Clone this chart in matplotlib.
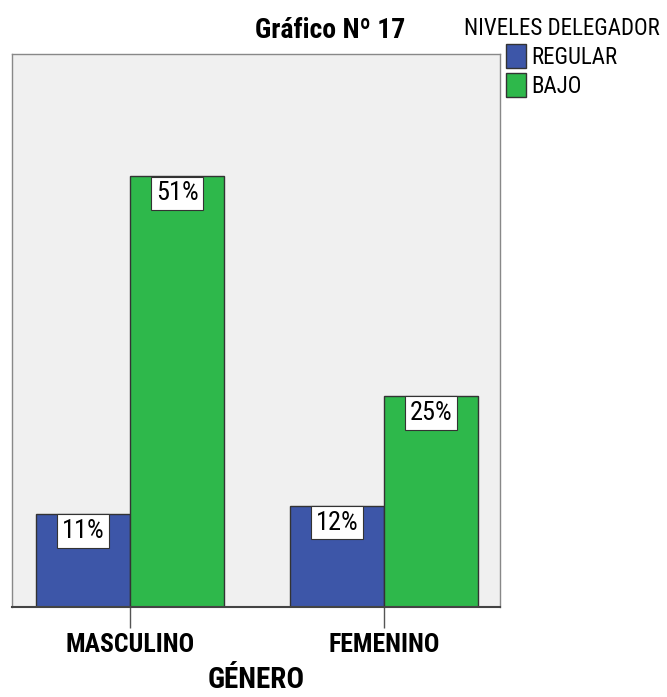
import matplotlib
matplotlib.use("Agg")
import matplotlib.pyplot as plt
import numpy as np
from matplotlib import font_manager as fm

categories = ["MASCULINO", "FEMENINO"]
series_names = ["REGULAR", "BAJO"]
regular = [11, 12]
bajo = [51, 25]
labels_regular = ["11%", "12%"]
labels_bajo = ["51%", "25%"]

installed = {f.name for f in fm.fontManager.ttflist}
fam = "DejaVu Sans"
for cand in ["Roboto Condensed", "Liberation Sans Narrow", "PT Sans Narrow",
             "Archivo Narrow", "Barlow Semi Condensed", "Asap Condensed"]:
    if cand in installed:
        fam = cand
        break

fig = plt.figure(figsize=(6.67, 6.97), dpi=100)
ax = fig.add_axes([12/667, 1-607/697, (500-12)/667, (607-54)/697])
ax.set_facecolor("#f0f0f0")

x = np.arange(len(categories))
w = 0.37
c_blue = "#3d56a8"
c_green = "#2eb84b"
b1 = ax.bar(x - w/2, regular, w, color=c_blue, edgecolor="#333333", linewidth=1.0, label=series_names[0])
b2 = ax.bar(x + w/2, bajo, w, color=c_green, edgecolor="#333333", linewidth=1.0, label=series_names[1])

for bars, labs in ((b1, labels_regular), (b2, labels_bajo)):
    for r, lab in zip(bars, labs):
        ax.annotate(lab, (r.get_x() + r.get_width()/2, r.get_height()),
                    xytext=(0, -3.5), textcoords="offset points", ha="center", va="top",
                    fontsize=19, family=fam,
                    bbox=dict(boxstyle="square,pad=0.18", fc="white", ec="#333333", lw=0.8))

ax.set_xlim(-0.465, 1.457)
ax.set_ylim(0, 65.5)
ax.set_yticks([])
ax.set_xticks(x)
ax.set_xticklabels(categories, fontsize=18.5, fontweight="bold", family=fam)
ax.tick_params(axis="x", length=15, width=1, color="#555555", pad=4)
for s in ["left", "top", "right"]:
    ax.spines[s].set_color("#888888")
    ax.spines[s].set_linewidth(1.0)
ax.spines["bottom"].set_color("#444444")
ax.spines["bottom"].set_linewidth(1.5)

ax.set_xlabel("GÉNERO", fontsize=21, fontweight="bold", family=fam, labelpad=6)
fig.text(330/667, 1-31/697, "Gráfico Nº 17", ha="center", va="center",
         fontsize=20, fontweight="bold", family=fam)

leg = fig.legend(handles=[b1, b2], labels=series_names, title="NIVELES DELEGADOR",
                 loc="upper center", bbox_to_anchor=(562/667, 1-3/697),
                 frameon=False,
                 handlelength=0.85, handleheight=1.2, handletextpad=0.25,
                 labelspacing=0.2, borderpad=0.1, prop={"family": fam, "size": 16.5})
leg.get_title().set_family(fam)
leg.get_title().set_fontsize(16.5)

fig.savefig("out.png", dpi=100)
